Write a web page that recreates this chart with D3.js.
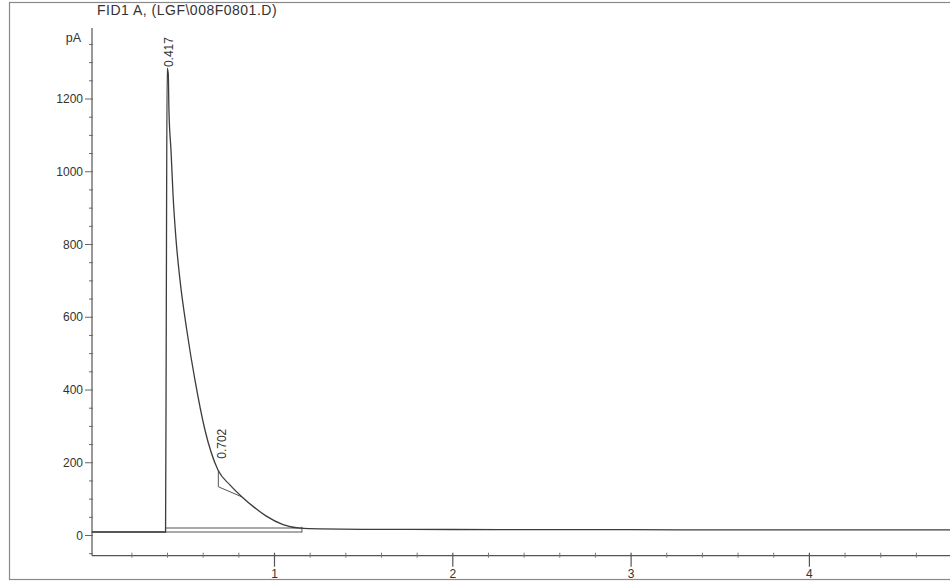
<!DOCTYPE html>
<html>
<head>
<meta charset="utf-8">
<script src="https://cdn.jsdelivr.net/npm/d3@7"></script>
<style>
  body { margin: 0; background: #fff; }
  svg { display: block; font-family: "Liberation Sans", Arial, sans-serif; }
</style>
</head>
<body>
<div id="chart"></div>
<script>
// chromatogram trace, time in min, signal in pA
var traceTime   = [-0.024, 0.389, 0.393, 0.398, 0.404, 0.408, 0.420, 0.431, 0.448, 0.470, 0.508, 0.554, 0.610, 0.683, 0.750, 0.818, 0.885, 0.952, 1.048, 1.143, 1.255, 1.500, 2.000, 2.500, 3.000, 3.500, 4.000, 4.500, 4.830];
var traceSignal = [9.6, 9.6, 600, 1285, 1270, 1170, 1054, 936, 812, 702, 565, 427, 290, 180, 139, 106, 78, 54, 30, 20, 18, 17, 16.5, 16, 16, 15.5, 15.5, 15.5, 15.5];

// peak annotations
var peakLabels = ["0.417", "0.702"];
var peakTimes  = [0.404, 0.685];
var peakHeights = [1285, 200];

// integration baselines
var baseLower = [[-0.024, 9.6], [1.154, 9.6]];
var baseMain  = [[0.389, 20.6], [1.154, 20.6]];
var baseSkim  = [[0.685, 178], [0.685, 134], [0.818, 106]];
var baseEndTick = [[1.154, 24], [1.154, 8.5]];

var yTicks = [0, 200, 400, 600, 800, 1000, 1200];
var xTicks = [1, 2, 3, 4];

var title = "FID1 A,  (LGF\\008F0801.D)";
var yUnit = "pA";

var W = 950, H = 581;

var svg = d3.select("#chart")
    .append("svg")
    .attr("width", W)
    .attr("height", H);

// scales
var x = d3.scaleLinear().domain([0, 4]).range([96.2, 809.4]);
var y = d3.scaleLinear().domain([0, 1200]).range([535.5, 99]);

var axisX0 = 92, axisY0 = 555.7;
var ink = "#3c3c3c";

// outer frame
svg.append("rect")
    .attr("x", 9.5).attr("y", 2.5)
    .attr("width", 1000).attr("height", 577)
    .attr("fill", "none")
    .attr("stroke", "#8a8a8a")
    .attr("stroke-width", 1.2);

// title
svg.append("text")
    .attr("x", 97).attr("y", 15)
    .attr("font-size", 14)
    .attr("letter-spacing", 0.5)
    .attr("fill", "#333")
    .text(title);

// Y axis
svg.append("line")
    .attr("x1", axisX0).attr("x2", axisX0)
    .attr("y1", 28).attr("y2", axisY0)
    .attr("stroke", "#555").attr("stroke-width", 1.2);

var yMinor = d3.range(-50, 1400, 50);
svg.append("g").selectAll("line")
    .data(yMinor)
    .enter().append("line")
    .attr("x1", function(d) { return d % 200 === 0 ? axisX0 - 7 : axisX0 - 3; })
    .attr("x2", axisX0 + 1)
    .attr("y1", function(d) { return y(d); })
    .attr("y2", function(d) { return y(d); })
    .attr("stroke", "#666").attr("stroke-width", 1);

svg.append("g").selectAll("text")
    .data(yTicks)
    .enter().append("text")
    .attr("x", axisX0 - 9)
    .attr("y", function(d) { return y(d); })
    .attr("dy", "0.35em")
    .attr("text-anchor", "end")
    .attr("font-size", 12)
    .attr("fill", "#333")
    .text(function(d) { return d; });

svg.append("text")
    .attr("x", 81).attr("y", 42)
    .attr("text-anchor", "end")
    .attr("font-size", 12.5)
    .attr("fill", "#333")
    .text(yUnit);

// X axis
svg.append("line")
    .attr("x1", axisX0).attr("x2", W)
    .attr("y1", axisY0).attr("y2", axisY0)
    .attr("stroke", "#555").attr("stroke-width", 1.2);

var xMinor = d3.range(0.2, 4.9, 0.2).filter(function(d) { return Math.abs(d - Math.round(d)) > 0.01; });
svg.append("g").selectAll("line")
    .data(xMinor)
    .enter().append("line")
    .attr("x1", function(d) { return x(d); })
    .attr("x2", function(d) { return x(d); })
    .attr("y1", axisY0 - 3).attr("y2", axisY0 + 2)
    .attr("stroke", "#777").attr("stroke-width", 1);

svg.append("g").selectAll("line")
    .data(xTicks)
    .enter().append("line")
    .attr("x1", function(d) { return x(d); })
    .attr("x2", function(d) { return x(d); })
    .attr("y1", axisY0 - 3).attr("y2", axisY0 + 11)
    .attr("stroke", "#555").attr("stroke-width", 1.2);

svg.append("g").selectAll("text")
    .data(xTicks)
    .enter().append("text")
    .attr("x", function(d) { return x(d); })
    .attr("y", 578)
    .attr("text-anchor", "middle")
    .attr("font-size", 12)
    .attr("fill", "#333")
    .text(function(d) { return d; });

// baselines
var lineGen = d3.line()
    .x(function(d) { return x(d[0]); })
    .y(function(d) { return y(d[1]); });

[baseLower, baseMain, baseSkim, baseEndTick].forEach(function(seg) {
    svg.append("path")
        .attr("d", lineGen(seg))
        .attr("fill", "none")
        .attr("stroke", "#555")
        .attr("stroke-width", 1);
});

// signal trace
var trace = traceTime.map(function(t, i) { return [t, traceSignal[i]]; });
svg.append("path")
    .attr("d", d3.line()
        .x(function(d) { return x(d[0]); })
        .y(function(d) { return y(d[1]); })
        .curve(d3.curveMonotoneX)(trace))
    .attr("fill", "none")
    .attr("stroke", ink)
    .attr("stroke-width", 1.3);

// peak labels, rotated
svg.append("g").selectAll("text")
    .data(peakLabels)
    .enter().append("text")
    .attr("transform", function(d, i) {
        var px = x(peakTimes[i]) + (i === 0 ? 0.5 : 4);
        var py = y(peakHeights[i]) - (i === 0 ? 1 : 4);
        return "translate(" + px + "," + py + ")rotate(-90)";
    })
    .attr("dominant-baseline", "central")
    .attr("font-size", 12)
    .attr("fill", "#333")
    .text(function(d) { return d; });
</script>
</body>
</html>
